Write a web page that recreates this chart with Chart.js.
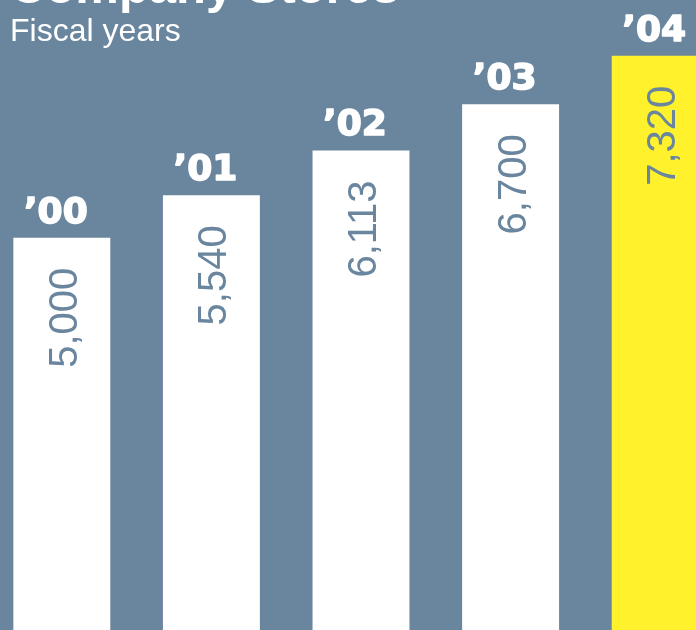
<!DOCTYPE html>
<html>
<head>
<meta charset="utf-8">
<script src="https://cdn.jsdelivr.net/npm/chart.js@4.4.0/dist/chart.umd.min.js"></script>
<style>
    html, body { margin: 0; padding: 0; overflow: hidden; background: #6a869e; }
    #wrap { position: relative; width: 696px; height: 630px; overflow: hidden; }
    #chart { position: absolute; left: -13px; top: 0; }
</style>
</head>
<body>
<div id="wrap"><canvas id="chart" width="748" height="630"></canvas></div>
<script>
const years = ['\u201900', '\u201901', '\u201902', '\u201903', '\u201904'];
const stores = [5000, 5540, 6113, 6700, 7320];
const barColors = ['#ffffff', '#ffffff', '#ffffff', '#ffffff', '#fff12b'];
const titleText = 'Company Stores';
const subtitleText = 'Fiscal years';

const slate = '#6a869e';
const offsetX = 13;

// year labels above bars, values rotated inside, title on top
const labelsPlugin = {
    id: 'labels',
    afterDraw(chart) {
        let ctx = chart.ctx;
        let meta = chart.getDatasetMeta(0);
        ctx.save();
        meta.data.forEach(function(bar, i) {
            ctx.fillStyle = '#ffffff';
            ctx.strokeStyle = '#ffffff';
            ctx.lineWidth = 1.6;
            ctx.lineJoin = 'round';
            ctx.font = 'bold 36px "DejaVu Sans", sans-serif';
            ctx.textAlign = 'center';
            ctx.textBaseline = 'alphabetic';
            ctx.fillText(years[i], bar.x - 6, bar.y - 15);
            ctx.strokeText(years[i], bar.x - 6, bar.y - 15);

            ctx.save();
            ctx.translate(bar.x + 15, bar.y + 30);
            ctx.rotate(-Math.PI / 2);
            ctx.fillStyle = slate;
            ctx.font = '40px "Liberation Sans", Arial, sans-serif';
            ctx.textAlign = 'right';
            ctx.fillText(stores[i].toLocaleString('en-US'), 0, 0);
            ctx.restore();
        });

        ctx.fillStyle = '#ffffff';
        ctx.textAlign = 'left';
        ctx.font = 'bold 49px "Liberation Sans", Arial, sans-serif';
        ctx.fillText(titleText, 10 + offsetX, 3);
        ctx.font = '32px "Liberation Sans", Arial, sans-serif';
        ctx.fillText(subtitleText, 10 + offsetX, 41);
        ctx.restore();
    }
};

let chart = new Chart(document.getElementById('chart'), {
    type: 'bar',
    data: {
        labels: years,
        datasets: [{
            data: stores,
            backgroundColor: barColors,
            borderWidth: 0,
            barPercentage: 0.648,
            categoryPercentage: 1
        }]
    },
    options: {
        responsive: false,
        animation: false,
        layout: { padding: 0 },
        scales: {
            x: { display: false },
            y: { display: false, min: 0, max: 8030 }
        },
        plugins: {
            legend: { display: false },
            tooltip: { enabled: false }
        }
    },
    plugins: [labelsPlugin]
});
</script>
</body>
</html>
